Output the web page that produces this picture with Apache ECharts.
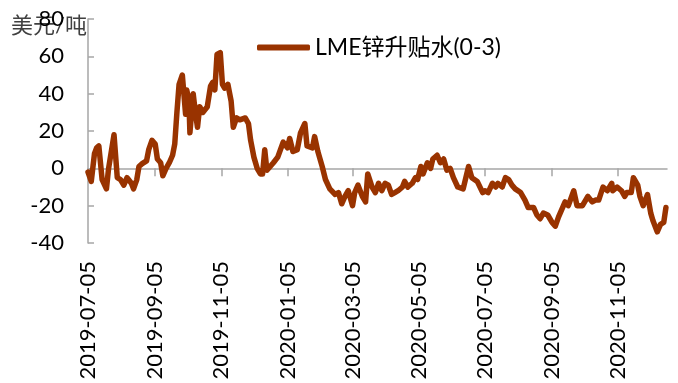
<!DOCTYPE html>
<html>
<head>
<meta charset="utf-8">
<script src="https://cdn.jsdelivr.net/npm/echarts@6/dist/echarts.min.js"></script>
<style>
html,body{margin:0;padding:0;background:#fff;}
#chart{width:678px;height:383px;}
</style>
</head>
<body>
<div id="chart"></div>
<script>
const seriesName = 'LME锌升贴水(0-3)';
const unitLabel = '美元/吨';
const axisStart = '2019-07-05';
const axisEnd = '2020-12-20';
const tickLabels = ['2019-07-05','2019-09-05','2019-11-05','2020-01-05','2020-03-05','2020-05-05','2020-07-05','2020-09-05','2020-11-05'];
const yTicks = [-40, -20, 0, 20, 40, 60, 80];

const dates = [
'2019-07-05','2019-07-08','2019-07-11','2019-07-13','2019-07-15','2019-07-18','2019-07-22','2019-07-24','2019-07-29',
'2019-08-01','2019-08-04','2019-08-07','2019-08-10','2019-08-14','2019-08-16','2019-08-19','2019-08-21','2019-08-24','2019-08-28','2019-08-30',
'2019-09-02','2019-09-05','2019-09-07','2019-09-10','2019-09-12','2019-09-15','2019-09-18','2019-09-21','2019-09-23','2019-09-25','2019-09-27','2019-09-30',
'2019-10-01','2019-10-03','2019-10-04','2019-10-06','2019-10-07','2019-10-10','2019-10-12','2019-10-14','2019-10-16','2019-10-19','2019-10-23','2019-10-26','2019-10-28','2019-10-30',
'2019-11-01','2019-11-04','2019-11-06','2019-11-08','2019-11-11','2019-11-14','2019-11-16','2019-11-19','2019-11-22','2019-11-27','2019-11-30',
'2019-12-02','2019-12-05','2019-12-08','2019-12-11','2019-12-13','2019-12-15','2019-12-17','2019-12-20','2019-12-23','2019-12-27',
'2020-01-01','2020-01-05','2020-01-07','2020-01-10','2020-01-14','2020-01-17','2020-01-21','2020-01-23','2020-01-28','2020-01-30',
'2020-02-02','2020-02-06','2020-02-09','2020-02-13','2020-02-18','2020-02-21','2020-02-24','2020-02-27',
'2020-03-01','2020-03-05','2020-03-07','2020-03-10','2020-03-14','2020-03-17','2020-03-19','2020-03-23','2020-03-26','2020-03-29',
'2020-04-01','2020-04-04','2020-04-07','2020-04-10','2020-04-13','2020-04-16','2020-04-20','2020-04-22','2020-04-25','2020-04-29',
'2020-05-02','2020-05-04','2020-05-07','2020-05-09','2020-05-13','2020-05-16','2020-05-18','2020-05-22','2020-05-25','2020-05-28','2020-05-31',
'2020-06-03','2020-06-06','2020-06-10','2020-06-15','2020-06-20','2020-06-23','2020-06-28',
'2020-07-03','2020-07-05','2020-07-08','2020-07-12','2020-07-15','2020-07-17','2020-07-21','2020-07-24','2020-07-27','2020-07-30',
'2020-08-02','2020-08-07','2020-08-11','2020-08-14','2020-08-19','2020-08-22','2020-08-25','2020-08-28',
'2020-09-01','2020-09-05','2020-09-08','2020-09-11','2020-09-14','2020-09-17','2020-09-20','2020-09-25','2020-09-28',
'2020-10-03','2020-10-06','2020-10-08','2020-10-12','2020-10-15','2020-10-18','2020-10-22','2020-10-26','2020-10-30','2020-10-31',
'2020-11-04','2020-11-08','2020-11-11','2020-11-13','2020-11-17','2020-11-19','2020-11-23','2020-11-25','2020-11-28',
'2020-12-02','2020-12-05','2020-12-07','2020-12-11','2020-12-14','2020-12-17','2020-12-19'
];
const values = [
-2,-7,8,11,12,-6,-11,0,18,
-5,-6,-9,-5,-8,-11,-6,1,2.5,4,10,
15,13,5,3,-4,0,3,7,13,30,45,50,
51,29,42,37,19,40,30,22,33,30,33,44,46,42,
61,62,45,43,45,36,22,27,26,27,24,
15,6,0,-3,-3,10,-1,1,3,6,
14,11,16,9,10,19,24,12,11,17,
9,1,-6,-11,-14,-13,-19,-15,
-12,-20,-13,-9,-15,-18,-3,-10,-13,-8,
-12,-8,-9,-14,-13,-12,-10,-7,-10,-8,
-5,-6,1,-3,3,0,5,7,3,5,-1,
0,-5,-10,-11,1,-5,-7,
-13,-12,-13,-8,-10,-8,-10,-5,-6,-9,
-11,-13,-17,-21,-21,-25,-27,-24,
-25,-29,-31,-26,-22,-18,-20,-12,-20,
-20,-17,-15,-18,-17,-17,-10,-12,-8,-12,
-10,-12,-15,-13,-13,-5,-9,-15,-20,
-14,-24,-28,-34,-30,-29,-21
];

// calendar-day categories (date axis)
function fmt(d){
  const y = d.getUTCFullYear(), m = d.getUTCMonth()+1, dd = d.getUTCDate();
  return y + '-' + String(m).padStart(2,'0') + '-' + String(dd).padStart(2,'0');
}
const categories = [];
for (let d = new Date(axisStart + 'T00:00:00Z'); d <= new Date(axisEnd + 'T00:00:00Z'); d.setUTCDate(d.getUTCDate()+1)) {
  categories.push(fmt(d));
}
const valueMap = {};
dates.forEach((d, i) => { valueMap[d] = values[i]; });
const lineData = categories.map(c => (c in valueMap ? valueMap[c] : null));

const isTick = (idx, val) => tickLabels.indexOf(val) >= 0;
const FONT = 'Lato, "Noto Sans CJK SC", sans-serif';

const chart = echarts.init(document.getElementById('chart'), null, {renderer: 'canvas'});
chart.setOption({
  animation: false,
  backgroundColor: '#ffffff',
  grid: {left: 88, right: 11, top: 19, bottom: 140, containLabel: false},
  legend: {
    show: true,
    left: 257, top: 36,
    padding: 0,
    icon: 'roundRect',
    itemWidth: 53, itemHeight: 6,
    textStyle: {fontFamily: FONT, fontSize: 23, color: '#000'},
    data: [seriesName]
  },
  graphic: [{
    type: 'text', left: 11, top: 15,
    style: {text: unitLabel, fontFamily: FONT, fontSize: 22, fill: '#404040'}
  }],
  xAxis: [{
    type: 'category',
    data: categories,
    boundaryGap: false,
    axisLine: {show: true, onZero: true, lineStyle: {color: '#a6a6a6', width: 1.5}},
    axisTick: {show: true, interval: isTick, length: 8, lineStyle: {color: '#a6a6a6', width: 1.5}},
    axisLabel: {show: false},
    splitLine: {show: false}
  }, {
    type: 'category',
    data: categories,
    boundaryGap: false,
    position: 'bottom',
    axisLine: {show: false, onZero: false},
    axisTick: {show: false},
    axisLabel: {show: true, interval: isTick, rotate: 90, margin: 18, fontFamily: FONT, fontSize: 22, color: '#000'},
    splitLine: {show: false}
  }],
  yAxis: {
    type: 'value',
    min: -40, max: 80, interval: 20,
    axisLine: {show: true, lineStyle: {color: '#a6a6a6', width: 1.5}},
    axisTick: {show: true, inside: true, length: 6, lineStyle: {color: '#a6a6a6', width: 1.5}},
    axisLabel: {fontFamily: FONT, fontSize: 22, color: '#000', margin: 24,
      formatter: v => (yTicks.indexOf(v) >= 0 ? String(v) : '')},
    splitLine: {show: false}
  },
  series: [{
    name: seriesName,
    type: 'line',
    xAxisIndex: 0,
    data: lineData,
    connectNulls: true,
    showSymbol: false,
    symbol: 'none',
    color: '#993300',
    lineStyle: {color: '#993300', width: 5.5, join: 'round', cap: 'round'}
  }]
});
</script>
</body>
</html>
